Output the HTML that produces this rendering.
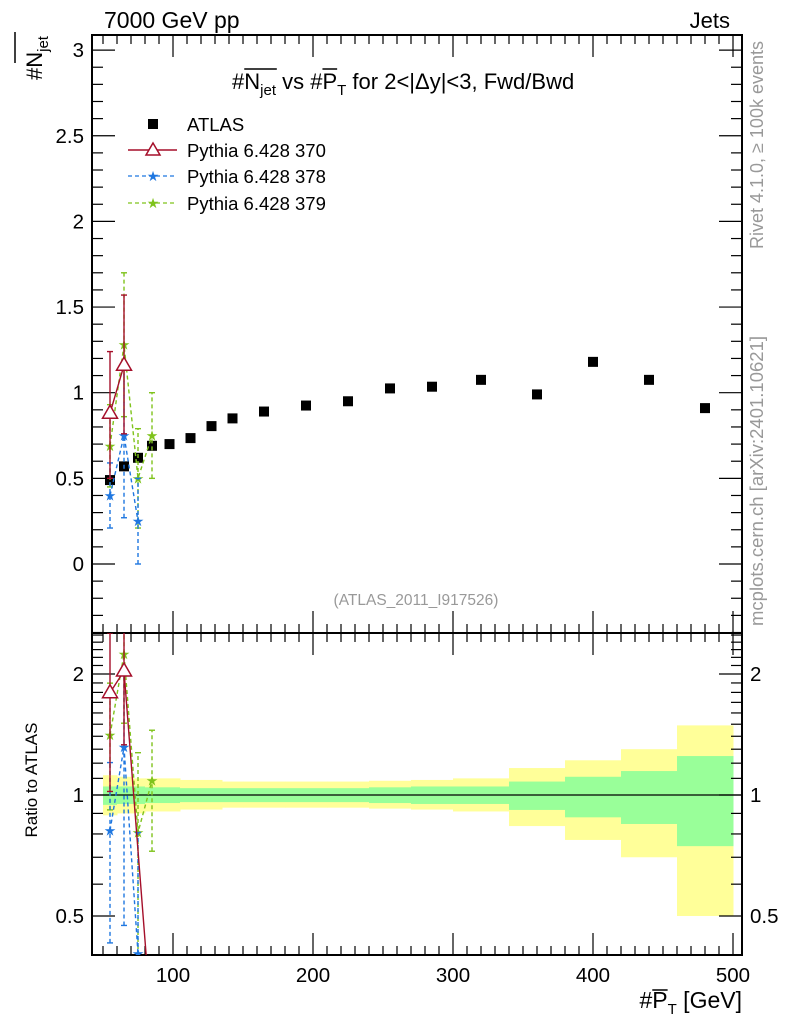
<!DOCTYPE html>
<html><head><meta charset="utf-8">
<style>
html,body{margin:0;padding:0;background:#fff;overflow:hidden;width:786px;height:1024px;}
svg{display:block;font-family:"Liberation Sans",sans-serif;}
</style></head>
<body>
<svg id="chart" width="786" height="1024" viewBox="0 0 786 1024" xmlns="http://www.w3.org/2000/svg">
<defs>
<clipPath id="clipMain"><rect x="92" y="35" width="650" height="598"/></clipPath>
<clipPath id="clipRatio"><rect x="92" y="633" width="650" height="322"/></clipPath>
</defs>
<g id="bands" clip-path="url(#clipRatio)"></g>
<g id="frames"></g>
<g id="marks"></g>
<text x="104" y="28" font-size="23">7000 GeV pp</text>
<text x="730" y="28" font-size="22" text-anchor="end">Jets</text>
<text id="title" x="232" y="89" font-size="22">#<tspan id="tN">N</tspan><tspan id="tj" font-size="15" dy="6">jet</tspan><tspan dy="-6"> vs #</tspan><tspan id="tP">P</tspan><tspan id="tT" font-size="15" dy="6">T</tspan><tspan dy="-6"> for 2&lt;|Δy|&lt;3, Fwd/Bwd</tspan></text>
<text transform="translate(42,80) rotate(-90)" font-size="22">#N<tspan font-size="15" dy="6">jet</tspan></text>
<line x1="15" y1="32" x2="15" y2="63" stroke="#000" stroke-width="1.5"/>
<text transform="translate(37,780) rotate(-90)" font-size="17" text-anchor="middle">Ratio to ATLAS</text>
<text id="xt" x="742" y="1008" font-size="23" text-anchor="end">#<tspan id="xP">P</tspan><tspan id="xT" font-size="15" dy="6">T</tspan><tspan dy="-6"> [GeV]</tspan></text>
<text transform="translate(763,145) rotate(-90)" font-size="18" fill="#999" text-anchor="middle">Rivet 4.1.0, ≥ 100k events</text>
<text transform="translate(763,481) rotate(-90)" font-size="18.5" fill="#999" text-anchor="middle">mcplots.cern.ch [arXiv:2401.10621]</text>
<text x="416" y="605" font-size="15.5" fill="#999" text-anchor="middle">(ATLAS_2011_I917526)</text>
<g id="legend">
<rect x="148" y="119" width="10" height="10" fill="#000"/>
<text x="187" y="131" font-size="18.5">ATLAS</text>
<line x1="128" y1="150" x2="177" y2="150" stroke="#a50f2a" stroke-width="1.5"/>
<path d="M153,143 L160,155 L146,155 Z" fill="#fff" stroke="#a50f2a" stroke-width="1.5"/>
<text x="187" y="157" font-size="18.5">Pythia 6.428 370</text>
<line x1="128" y1="176" x2="177" y2="176" stroke="#1f77e0" stroke-width="1.2" stroke-dasharray="4,3"/>
<text x="153" y="181" font-size="14" fill="#1f77e0" text-anchor="middle">★</text>
<text x="187" y="183" font-size="18.5">Pythia 6.428 378</text>
<line x1="128" y1="203" x2="177" y2="203" stroke="#7fc31c" stroke-width="1.2" stroke-dasharray="4,3"/>
<text x="153" y="208" font-size="14" fill="#7fc31c" text-anchor="middle">★</text>
<text x="187" y="210" font-size="18.5">Pythia 6.428 379</text>
</g>
</svg>
<script>
const binEdges=[50,60,70,80,90,105,120,135,150,180,210,240,270,300,340,380,420,460,500];
const atlasX=[55,65,75,85,97.5,112.5,127.5,142.5,165,195,225,255,285,320,360,400,440,480];
const atlasY=[0.49,0.57,0.62,0.69,0.70,0.735,0.805,0.85,0.89,0.925,0.95,1.025,1.035,1.075,0.99,1.18,1.075,0.91];
const yellowUp=[1.12,1.11,1.10,1.10,1.10,1.09,1.09,1.08,1.08,1.08,1.08,1.085,1.09,1.10,1.167,1.22,1.30,1.49];
const yellowLo=[0.89,0.90,0.90,0.91,0.91,0.92,0.92,0.93,0.93,0.93,0.93,0.925,0.92,0.91,0.837,0.773,0.70,0.50];
const greenUp=[1.05,1.05,1.05,1.045,1.045,1.04,1.04,1.04,1.04,1.04,1.04,1.045,1.05,1.05,1.08,1.11,1.147,1.25];
const greenLo=[0.945,0.95,0.95,0.955,0.955,0.96,0.96,0.96,0.96,0.96,0.96,0.955,0.95,0.95,0.918,0.88,0.847,0.746];
const p370X=[55,65,85];
const p370Y=[0.88,1.16,0.0];
const p370Lo=[0.50,0.76,0.0];
const p370Hi=[1.24,1.57,0.0];
const p378X=[55,65,75];
const p378Y=[0.40,0.75,0.25];
const p378Lo=[0.21,0.27,0.0];
const p378Hi=[0.59,1.16,0.50];
const p379X=[55,65,75,85];
const p379Y=[0.69,1.28,0.50,0.75];
const p379Lo=[0.45,0.86,0.21,0.50];
const p379Hi=[0.93,1.70,0.79,1.00];
const mainTicks=[0,0.5,1,1.5,2,2.5,3];
const mainTickLabels=["0","0.5","1","1.5","2","2.5","3"];
const xTicks=[100,200,300,400,500];
const xTickLabels=["100","200","300","400","500"];
const ratioTicks=[0.5,1,2];
const ratioTickLabels=["0.5","1","2"];

const NS="http://www.w3.org/2000/svg";
const L=92,R=742,MT=35,MB=633,RB=955;
const X=v=>L+(v-42.14)*(R-L)/(506.43-42.14);
const Y=v=>564-v*171.3;
const RY=v=>795-Math.log2(v)*121;
function mk(tag,attrs,parent){const e=document.createElementNS(NS,tag);for(const k in attrs)e.setAttribute(k,attrs[k]);(parent||document.getElementById('marks')).appendChild(e);return e;}
const bands=document.getElementById('bands'),frames=document.getElementById('frames'),marks=document.getElementById('marks');

// overlines
function overline(idA,idB,y){const a=document.getElementById(idA).getBBox?null:null;
  const ta=document.getElementById(idA),tb=document.getElementById(idB);
  const p=document.getElementById(idA).parentNode;
  const ia=[...p.childNodes].indexOf(ta);
  let startChar=0;const txt=p.textContent;
  // use extent of char ranges
  const sa=p.getNumberOfChars?null:null;
  const ba=ta.getBBox(),bb=tb.getBBox();
  const ln=mk('line',{x1:ba.x,x2:bb.x+bb.width,y1:y,y2:y,stroke:'#000','stroke-width':1.5});
  
  }
try{overline('tN','tj',69);overline('tP','tP',69);overline('xP','xP',990);}catch(e){}

// bands
for(let i=0;i<atlasX.length;i++){
  const x0=X(binEdges[i]),x1=X(binEdges[i+1]);
  let e=mk('rect',{x:x0,y:RY(yellowUp[i]),width:x1-x0+0.5,height:RY(yellowLo[i])-RY(yellowUp[i]),fill:'#ffff99'},bands);
  
  
  e=mk('rect',{x:x0,y:RY(greenUp[i]),width:x1-x0+0.5,height:RY(greenLo[i])-RY(greenUp[i]),fill:'#99ff99'},bands);
  
  
}
mk('line',{x1:L,x2:R,y1:RY(1),y2:RY(1),stroke:'#000','stroke-width':1.2},bands);

function frameTicks(top,bot){
  mk('rect',{x:L,y:top,width:R-L,height:bot-top,fill:'none',stroke:'#000','stroke-width':2},frames);
  for(let v=50;v<=500;v+=10){
    const major=v%100===0;const len=major?22:9;const x=X(v);
    mk('line',{x1:x,x2:x,y1:bot,y2:bot-len,stroke:'#000','stroke-width':1.2},frames);
    mk('line',{x1:x,x2:x,y1:top,y2:top+len,stroke:'#000','stroke-width':1.2},frames);
  }
}
frameTicks(MT,MB);frameTicks(MB,RB);
for(let v=-0.4;v<=3.05;v+=0.1){
  const r=Math.round(v*10)/10;const major=Math.abs(r*2-Math.round(r*2))<1e-6;const len=major?23:11;const y=Y(r);
  if(y<MT||y>MB)continue;
  mk('line',{x1:L,x2:L+len,y1:y,y2:y,stroke:'#000','stroke-width':1.2},frames);
  mk('line',{x1:R,x2:R-len,y1:y,y2:y,stroke:'#000','stroke-width':1.2},frames);
}
mainTicks.forEach((v,i)=>{const t=mk('text',{x:L-8,y:Y(v)+7,'font-size':20.5,'text-anchor':'end'},frames);t.textContent=mainTickLabels[i];

});
const rMinor=[0.4,0.6,0.7,0.8,0.9,1.1,1.2,1.3,1.4,1.5,1.6,1.7,1.8,1.9,2.1,2.2,2.3,2.4,2.5];
rMinor.forEach(v=>{const y=RY(v);if(y<MB||y>RB)return;
  mk('line',{x1:L,x2:L+11,y1:y,y2:y,stroke:'#000','stroke-width':1.2},frames);
  mk('line',{x1:R,x2:R-11,y1:y,y2:y,stroke:'#000','stroke-width':1.2},frames);});
ratioTicks.forEach((v,i)=>{const y=RY(v);
  mk('line',{x1:L,x2:L+23,y1:y,y2:y,stroke:'#000','stroke-width':1.2},frames);
  mk('line',{x1:R,x2:R-23,y1:y,y2:y,stroke:'#000','stroke-width':1.2},frames);
  let t=mk('text',{x:L-8,y:y+7,'font-size':20.5,'text-anchor':'end'},frames);t.textContent=ratioTickLabels[i];
  
  
  t=mk('text',{x:R+8,y:y+7,'font-size':20.5},frames);t.textContent=ratioTickLabels[i];
  
  });
xTicks.forEach((v,i)=>{const t=mk('text',{x:X(v),y:982,'font-size':20.5,'text-anchor':'middle'},frames);t.textContent=xTickLabels[i];

});

const gm=mk('g',{'clip-path':'url(#clipMain)'});
atlasX.forEach((x,i)=>{const r=mk('rect',{x:X(x)-5,y:Y(atlasY[i])-5,width:10,height:10,fill:'#000'},gm);

});

function star(g,cx,cy,col){const t=mk('text',{x:cx,y:cy+5,'font-size':14,fill:col,'text-anchor':'middle'},g);t.textContent='★';return t;}
function tri(g,cx,cy,col){return mk('path',{d:`M${cx},${cy-8} L${cx+7.5},${cy+5} L${cx-7.5},${cy+5} Z`,fill:'#fff',stroke:col,'stroke-width':1.5},g);}
const gr=mk('g',{'clip-path':'url(#clipRatio)'});
function series(xs,ys,lo,hi,col,dash,marker,name,skipZero){
  const pts=[],rpts=[];
  xs.forEach((x,i)=>{
    const a=atlasY[atlasX.indexOf(x)];
    const rv=Math.max(ys[i]/a,0.26);
    rpts.push([X(x),RY(rv)]);
    if(skipZero&&ys[i]<=0)return;
    pts.push([X(x),Y(ys[i])]);
  });
  const sa={fill:'none',stroke:col,'stroke-width':1.4};if(dash)sa['stroke-dasharray']='4,3';
  let p=mk('polyline',Object.assign({points:pts.map(p=>p.join(',')).join(' ')},sa),gm);
  
  
  p=mk('polyline',Object.assign({points:rpts.map(p=>p.join(',')).join(' ')},sa),gr);
  
  
  xs.forEach((x,i)=>{
    if(skipZero&&ys[i]<=0)return;
    const a=atlasY[atlasX.indexOf(x)];const cx=X(x);
    const eb=Object.assign({},sa);
    let e=mk('line',Object.assign({x1:cx,x2:cx,y1:Y(lo[i]),y2:Y(hi[i])},eb),gm);
    
    
    mk('line',{x1:cx-3,x2:cx+3,y1:Y(lo[i]),y2:Y(lo[i]),stroke:col,'stroke-width':1.4},gm);
    mk('line',{x1:cx-3,x2:cx+3,y1:Y(hi[i]),y2:Y(hi[i]),stroke:col,'stroke-width':1.4},gm);
    const rl=RY(Math.max(lo[i]/a,0.05)),rh=RY(hi[i]/a);
    e=mk('line',Object.assign({x1:cx,x2:cx,y1:rl,y2:rh},eb),gr);
    
    
    mk('line',{x1:cx-3,x2:cx+3,y1:rl,y2:rl,stroke:col,'stroke-width':1.4},gr);
    mk('line',{x1:cx-3,x2:cx+3,y1:rh,y2:rh,stroke:col,'stroke-width':1.4},gr);
    let m=marker(gm,cx,Y(ys[i]),col);
    
    
    m=marker(gr,cx,RY(ys[i]/a),col);
    
    
  });
}
series(p379X,p379Y,p379Lo,p379Hi,'#7fc31c',true,star,'pythia-379',false);
series(p378X,p378Y,p378Lo,p378Hi,'#1f77e0',true,star,'pythia-378',false);
series(p370X,p370Y,p370Lo,p370Hi,'#a50f2a',false,tri,'pythia-370',true);
</script>
</body></html>
